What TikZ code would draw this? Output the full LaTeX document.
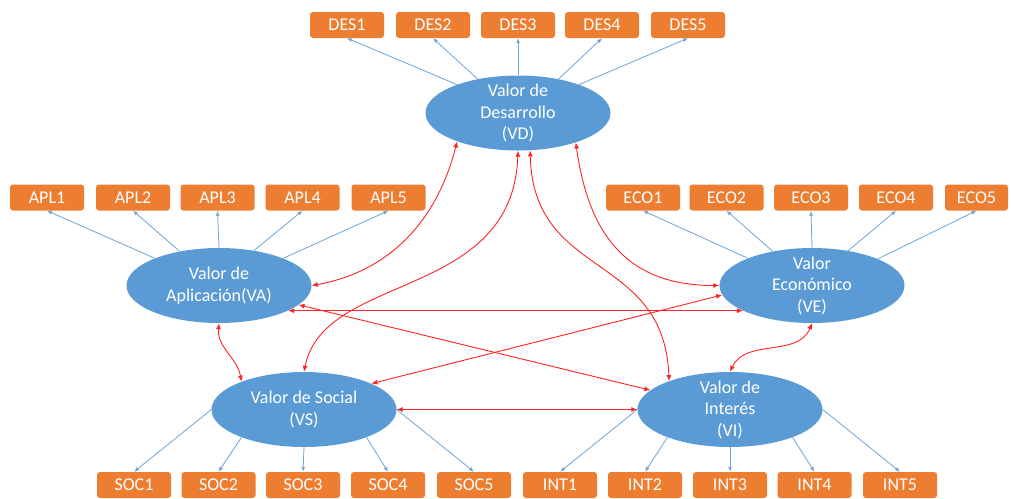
\documentclass[tikz,border=0pt]{standalone}
\usepackage{fontspec}
\setmainfont{Carlito}
\usetikzlibrary{arrows.meta,shapes.geometric}
\definecolor{boxor}{HTML}{ED7D31}
\definecolor{ellblue}{HTML}{5B9BD5}
\definecolor{lineblue}{HTML}{6FA5D8}
\definecolor{redline}{HTML}{FF2424}
\begin{document}
\begin{tikzpicture}[x=1pt,y=1pt,
  ind/.style={rectangle, rounded corners=3, fill=boxor, text=white, minimum width=74, minimum height=26, inner sep=0, font=\fontsize{18}{21}\selectfont},
  lat/.style={ellipse, fill=ellblue, minimum width=185, minimum height=75, inner sep=0},
  lattext/.style={text=white, align=center, inner sep=0, font=\fontsize{18}{21.5}\selectfont},
  load/.style={draw=lineblue, line width=0.8, -{Latex[length=5,width=4]}},
  cov/.style={draw=redline, line width=0.9, {Latex[length=6,width=5]}-{Latex[length=6,width=5]}}
]
\clip (0,0) rectangle (1011,-498);
\fill[white] (0,0) rectangle (1011,-498);

% indicator boxes
\node[ind] (DES1) at (347,-25) {DES1};
\node[ind] (DES2) at (433,-25) {DES2};
\node[ind] (DES3) at (518,-25) {DES3};
\node[ind] (DES4) at (602,-25) {DES4};
\node[ind] (DES5) at (688,-25) {DES5};

\node[ind] (APL1) at (47,-197.5) {APL1};
\node[ind] (APL2) at (133,-197.5) {APL2};
\node[ind] (APL3) at (217.5,-197.5) {APL3};
\node[ind] (APL4) at (302.5,-197.5) {APL4};
\node[ind] (APL5) at (388.5,-197.5) {APL5};

\node[ind] (ECO1) at (643,-197.5) {ECO1};
\node[ind] (ECO2) at (726.5,-197.5) {ECO2};
\node[ind] (ECO3) at (811,-197.5) {ECO3};
\node[ind] (ECO4) at (896,-197.5) {ECO4};
\node[ind, minimum width=63] (ECO5) at (976.5,-197.5) {ECO5};

\node[ind] (SOC1) at (134,-485) {SOC1};
\node[ind] (SOC2) at (218.5,-485) {SOC2};
\node[ind] (SOC3) at (303,-485) {SOC3};
\node[ind] (SOC4) at (388,-485) {SOC4};
\node[ind] (SOC5) at (474,-485) {SOC5};

\node[ind] (INT1) at (560,-485) {INT1};
\node[ind] (INT2) at (645,-485) {INT2};
\node[ind] (INT3) at (730,-485) {INT3};
\node[ind] (INT4) at (814.5,-485) {INT4};
\node[ind] (INT5) at (900,-485) {INT5};

% latent ellipses
\node[lat] (VD) at (518,-113) {};
\node[lat] (VA) at (219,-285.5) {};
\node[lat] (VE) at (812,-285.5) {};
\node[lat] (VS) at (304,-409.5) {};
\node[lat] (VI) at (730,-409.5) {};
\node[lattext] (VDt) at (VD) {Valor de\\Desarrollo\\(VD)};
\node[lattext] (VAt) at (VA) {Valor de\\Aplicación(VA)};
\node[lattext] (VEt) at (VE) {Valor\\Económico\\(VE)};
\node[lattext] (VSt) at (VS) {Valor de Social\\(VS)};
\node[lattext] (VIt) at (VI) {Valor de\\Interés\\(VI)};

% loadings
\draw[load] (VD.155) -- (DES1.south);
\draw[load] (VD.140) -- (DES2.south);
\draw[load] (VD.90) -- (DES3.south);
\draw[load] (VD.40) -- (DES4.south);
\draw[load] (VD.25) -- (DES5.south);

\draw[load] (VA.157) -- (APL1.south);
\draw[load] (VA.139) -- (APL2.south);
\draw[load] (VA.90) -- (APL3.south);
\draw[load] (VA.45) -- (APL4.south);
\draw[load] (VA.23) -- (APL5.south);

\draw[load] (VE.157) -- (ECO1.south);
\draw[load] (VE.139) -- (ECO2.south);
\draw[load] (VE.90) -- (ECO3.south);
\draw[load] (VE.44) -- (ECO4.south);
\draw[load] (VE.22) -- (ECO5.south);

\draw[load] (VS.180) -- (SOC1.north);
\draw[load] (VS.204) -- (SOC2.north);
\draw[load] (VS.270) -- (SOC3.north);
\draw[load] (VS.336) -- (SOC4.north);
\draw[load] (VS.0) -- (SOC5.north);

\draw[load] (VI.180) -- (INT1.north);
\draw[load] (VI.204) -- (INT2.north);
\draw[load] (VI.270) -- (INT3.north);
\draw[load] (VI.336) -- (INT4.north);
\draw[load] (VI.0) -- (INT5.north);

% covariances
\draw[cov] (VA.east) to[out=10, in=-104] (VD.205);
\draw[cov] (VD.270) .. controls +(-5,-150) and +(20,100) .. (VS.90);
\draw[cov] (VD.288) .. controls +(3,-130) and +(-5,130) .. (VI.155);
\draw[cov] (VD.333) .. controls +(13,-95) and +(-90,0) .. (VE.west);
\draw[cov] (VA.340) -- (VE.200);
\draw[cov] (VA) -- (VI);
\draw[cov] (VS.21) -- (VE.186);
\draw[cov] (VS.east) -- (VI.west);
\draw[cov] (VA.south) to[out=-95, in=100] (VS.156);
\draw[cov] (VE.south) to[out=-112, in=65] (VI.north);
\end{tikzpicture}
\end{document}
